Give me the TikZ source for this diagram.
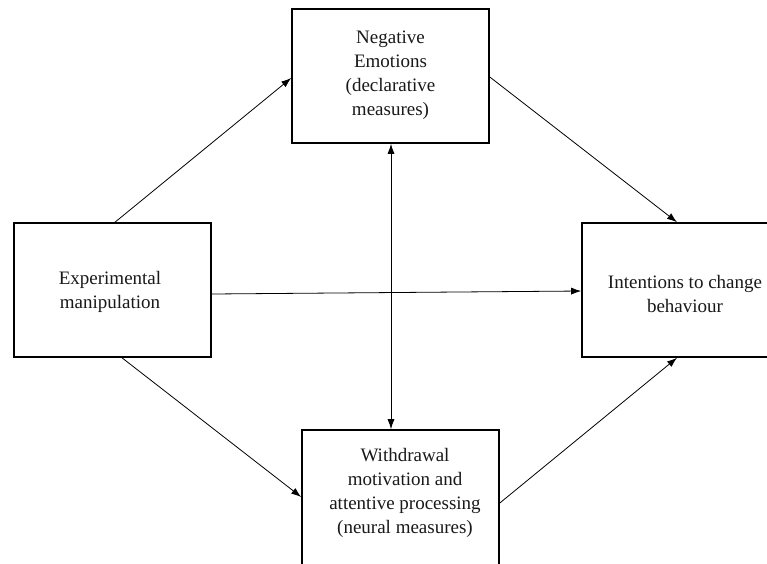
\documentclass[tikz,border=0pt]{standalone}
\usepackage{fontspec}
\setmainfont{Liberation Serif}
\newfontfamily\timesx{Liberation Serif}
\usetikzlibrary{arrows.meta,calc}
\begin{document}
\begin{tikzpicture}[x=1pt,y=-1pt,
  box/.style={draw, line width=1.6pt, minimum width=197pt, minimum height=134pt, inner sep=0pt},
  lbl/.style={font=\timesx\fontsize{19}{24}\selectfont, align=center, inner sep=0pt, text=black!90},
  conn/.style={line width=0.8pt, -{Latex[length=10pt,width=7pt]}},
  dconn/.style={line width=0.8pt, {Latex[length=10pt,width=7pt]}-{Latex[length=10pt,width=7pt]}}]
\clip (0,0) rectangle (767,563);
\fill[white] (0,0) rectangle (767,563);
\node[box] (E) at (390.5,76) {};
\node[box] (L) at (112.5,290) {};
\node[box] (I) at (680.5,290) {};
\node[box, minimum height=150pt] (W) at (400.5,505) {};
\node[lbl] (Et) at (390.5,75) {Negative\\Emotions\\(declarative\\measures)};
\node[lbl] (Lt) at (110,292) {Experimental\\manipulation};
\node[lbl] (It) at (685,294) {Intentions to change\\behaviour};
\node[lbl] (Wt) at (405,493) {Withdrawal\\motivation and\\attentive processing\\(neural measures)};
\draw[conn] ($(L.north)+(2.5,0)$) -- ($(E.west)+(0,2)$);
\draw[conn] ($(E.east)+(0,1)$) -- ($(I.north)+(-3.5,0)$);
\draw[conn] ($(L.east)+(0,4)$) -- ($(I.west)+(0,1)$);
\draw[conn] ($(L.south)+(9.5,0)$) -- ($(W.west)+(0,-8)$);
\draw[conn] ($(W.east)+(0,-2)$) -- ($(I.south)+(-3.5,0)$);
\draw[dconn] ($(E.south)+(0.5,0)$) -- ($(W.north)+(-9.5,0)$);
\end{tikzpicture}
\end{document}
